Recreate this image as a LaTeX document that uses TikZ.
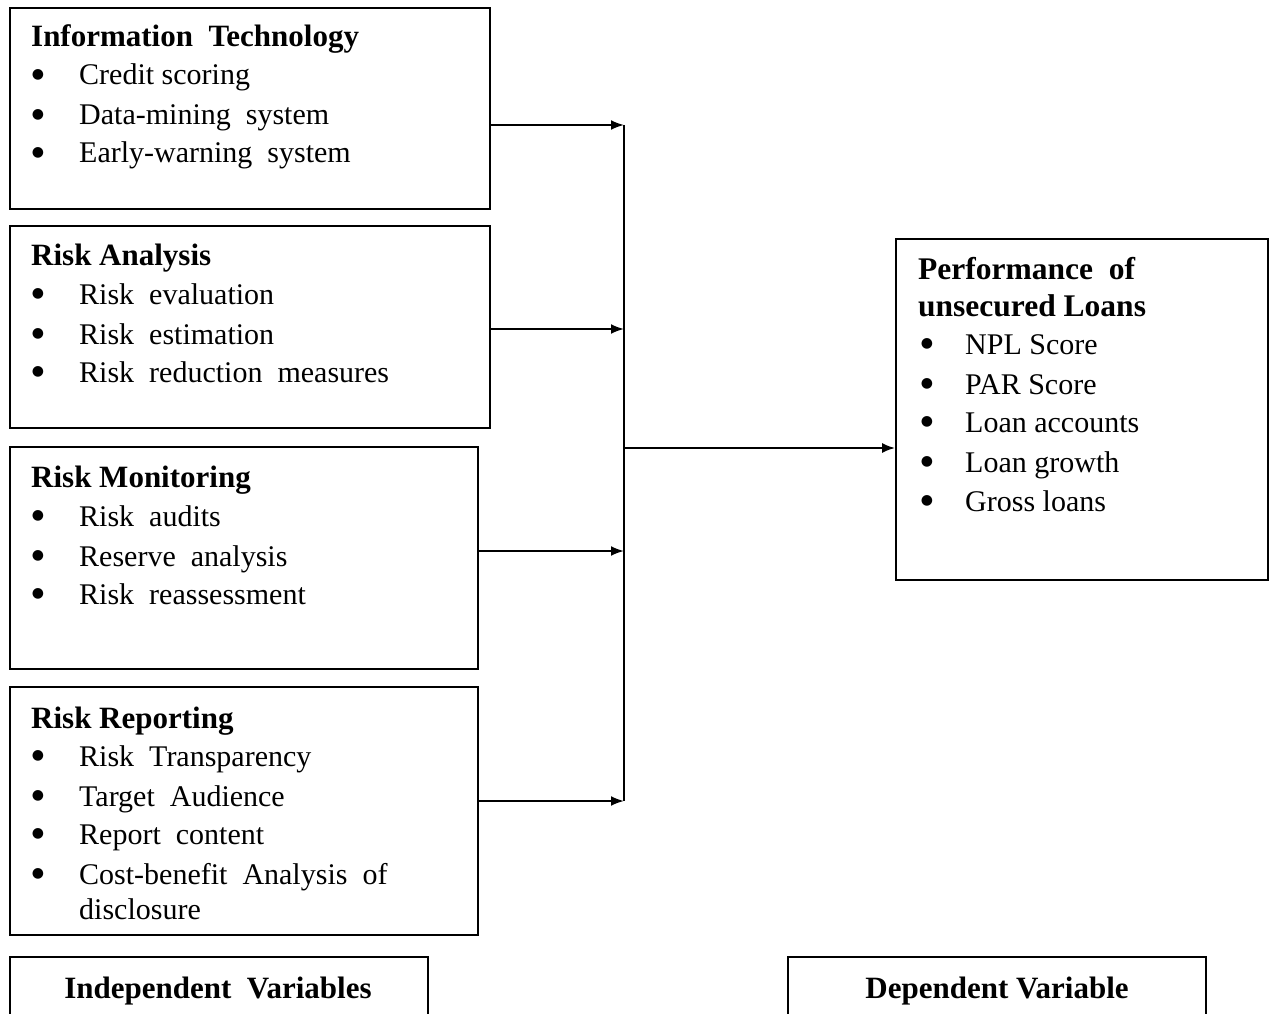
\documentclass[tikz,border=0pt]{standalone}
\usepackage{fontspec}
\setmainfont{Liberation Serif}
\newfontfamily\symfont{DejaVu Sans}
\usetikzlibrary{arrows.meta}
\newcommand\bulletmark{●}
\begin{document}
\begin{tikzpicture}[x=1pt,y=-1pt,
  boxshape/.style={draw=black,line width=1.8pt},
  txt/.style={anchor=base west,inner sep=0pt,font=\fontsize{30}{36}\selectfont},
  ttl/.style={txt,font=\fontsize{31}{36}\selectfont\bfseries},
  bul/.style={anchor=center,inner sep=0pt,font=\fontsize{14}{16}\symfont},
  lbl/.style={anchor=base,inner sep=0pt,font=\fontsize{31}{36}\selectfont\bfseries},
  conn/.style={line width=2pt,-{Latex[length=13pt,width=10pt]}},
  trunk/.style={line width=2pt}]
\useasboundingbox (0,0) rectangle (1270,1014);
\clip (0,0) rectangle (1270,1014);
% boxes
\node[boxshape,minimum width=480pt,minimum height=201pt,inner sep=0pt] (b1) at (250,108.5) {};
\node[boxshape,minimum width=480pt,minimum height=202pt,inner sep=0pt] (b2) at (250,327) {};
\node[boxshape,minimum width=468pt,minimum height=222pt,inner sep=0pt] (b3) at (244,558) {};
\node[boxshape,minimum width=468pt,minimum height=248pt,inner sep=0pt] (b4) at (244,811) {};
\node[boxshape,minimum width=372pt,minimum height=341pt,inner sep=0pt] (dv) at (1082,409.5) {};
\node[boxshape,minimum width=418pt,minimum height=120pt,inner sep=0pt] (lb) at (219,1017) {};
\node[boxshape,minimum width=418pt,minimum height=120pt,inner sep=0pt] (rb) at (997,1017) {};
% texts box 1
\node[ttl] (t1) at (31,47) {Information\ \ Technology};
\node[bul] (u11) at (38,75) {\bulletmark}; \node[txt] (i11) at (79,85) {Credit scoring};
\node[bul] (u12) at (38,115) {\bulletmark}; \node[txt] (i12) at (79,125) {Data-mining\ \ system};
\node[bul] (u13) at (38,153) {\bulletmark}; \node[txt] (i13) at (79,163) {Early-warning\ \ system};
% box 2
\node[ttl] (t2) at (31,265) {Risk Analysis};
\node[bul] (u21) at (38,294) {\bulletmark}; \node[txt] (i21) at (79,304) {Risk\ \ evaluation};
\node[bul] (u22) at (38,334) {\bulletmark}; \node[txt] (i22) at (79,344) {Risk\ \ estimation};
\node[bul] (u23) at (38,372) {\bulletmark}; \node[txt] (i23) at (79,382) {Risk\ \ reduction\ \ measures};
% box 3
\node[ttl] (t3) at (31,487) {Risk Monitoring};
\node[bul] (u31) at (38,516) {\bulletmark}; \node[txt] (i31) at (79,526) {Risk\ \ audits};
\node[bul] (u32) at (38,556) {\bulletmark}; \node[txt] (i32) at (79,566) {Reserve\ \ analysis};
\node[bul] (u33) at (38,594) {\bulletmark}; \node[txt] (i33) at (79,604) {Risk\ \ reassessment};
% box 4
\node[ttl] (t4) at (31,728) {Risk Reporting};
\node[bul] (u41) at (38,756) {\bulletmark}; \node[txt] (i41) at (79,766) {Risk\ \ Transparency};
\node[bul] (u42) at (38,796) {\bulletmark}; \node[txt] (i42) at (79,806) {Target\ \ Audience};
\node[bul] (u43) at (38,834) {\bulletmark}; \node[txt] (i43) at (79,844) {Report\ \ content};
\node[bul] (u44) at (38,874) {\bulletmark}; \node[txt] (i44) at (79,884) {Cost-benefit\ \ Analysis\ \ of};
\node[txt] (i45) at (79,919) {disclosure};
% dependent box
\node[ttl,font=\fontsize{31.5}{36}\selectfont\bfseries] (td1) at (918,279) {Performance\ \ of};
\node[ttl,font=\fontsize{31.5}{36}\selectfont\bfseries] (td2) at (918,316) {unsecured Loans};
\node[bul] (ud1) at (927,344) {\bulletmark}; \node[txt] (id1) at (965,354) {NPL Score};
\node[bul] (ud2) at (927,384) {\bulletmark}; \node[txt] (id2) at (965,394) {PAR Score};
\node[bul] (ud3) at (927,422) {\bulletmark}; \node[txt] (id3) at (965,432) {Loan accounts};
\node[bul] (ud4) at (927,462) {\bulletmark}; \node[txt] (id4) at (965,472) {Loan growth};
\node[bul] (ud5) at (927,501) {\bulletmark}; \node[txt] (id5) at (965,511) {Gross loans};
% bottom labels
\node[lbl] (lbt) at (218,998) {Independent\ \ Variables};
\node[lbl] (rbt) at (997,998) {Dependent Variable};
% connectors
\coordinate (j1) at (624,125);
\coordinate (j2) at (624,329);
\coordinate (j3) at (624,551);
\coordinate (j4) at (624,801);
\coordinate (jm) at (624,448);
\draw[trunk] (j1) -- (j4);
\draw[conn] (b1.east |- j1) -- (j1);
\draw[conn] (b2.east |- j2) -- (j2);
\draw[conn] (b3.east |- j3) -- (j3);
\draw[conn] (b4.east |- j4) -- (j4);
\draw[conn] (jm) -- (dv.west |- jm);
\end{tikzpicture}
\end{document}
